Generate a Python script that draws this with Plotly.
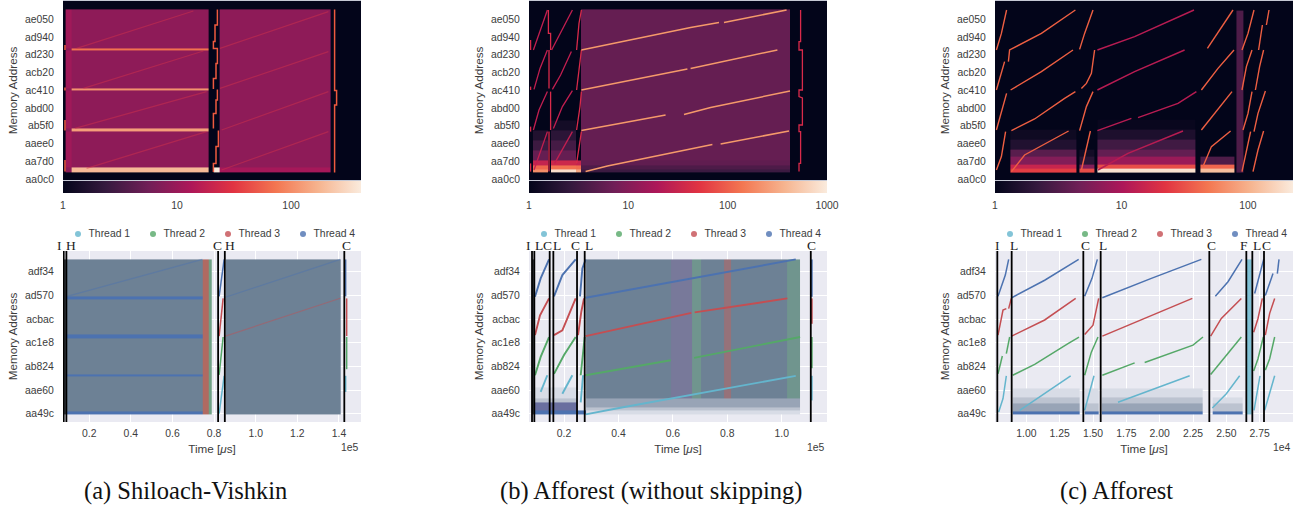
import numpy as np
import plotly.graph_objects as go

# ---------------------------------------------------------------- data
# Values. Individual speckle points cannot be read, so
# dense clouds are given as cell tables of estimated mean tone, not as points.
ROCKET = [[0, "#03051a"], [1/7, "#35193e"], [2/7, "#701f57"], [3/7, "#ad1759"],
          [4/7, "#e13342"], [5/7, "#f37651"], [6/7, "#f6b48f"], [1, "#faebdd"]]
HEAT_TICKS = ["aa0c0", "aa7d0", "aaee0", "ab5f0", "abd00", "ac410", "acb20", "ad230", "ad940", "ae050"]
ADDR_TICKS = ["aa49c", "aae60", "ab824", "ac1e8", "acbac", "ad570", "adf34"]
THREADS = ["Thread 1", "Thread 2", "Thread 3", "Thread 4"]
THREAD_COLORS = ["#64b5cd", "#55a868", "#c44e52", "#4c72b0"]
N = None

# Heatmap (a): access counts per (time bin, address bin)
HA_X = [1.3, 4.3, 72.7, 75.2, 78.2, 134.0]
HA_Y = [3.7, 4.0, 6.2, 24.3, 25.7, 44.7, 45.8, 64.7, 65.8, 85.3]
HA_Z = [[6, 6, N, N, 6],
        [8, 190, N, 400, 12],
        [11, 8.5, N, N, 8.5],
        [8, 130, N, N, 8.5],
        [11, 8.5, N, N, 8.5],
        [8, 110, N, N, 8.5],
        [11, 8.5, N, N, 8.5],
        [8, 70, N, N, 8.5],
        [11, 8.5, N, N, 8.5]]
HA_BRIGHT_X = [77.2, 77.2, 76, 76, 75.2, 75.2, 77.2, 77.2, 76.5, 76.5, 75.2, 75.2, N, 77.2, 77.2, 76.5, 76.5, 75.2, 75.2, N,
               77.7, 77.7, 76.5, 76.5, 75.2, 75.2, N, 135.8, 135.8, 136.8, 136.8, 135.8, 135.8, N,
               1, 1, N, 1, 1, N, 1, 1, N, 1, 1]
HA_BRIGHT_Y = [85.3, 77.5, 77.5, 69.2, 69.2, 65.8, 65.8, 58.3, 58.3, 50.8, 50.8, 45.5, N, 45.3, 40, 40, 33.3, 33.3, 25.8, N,
               24.7, 16.7, 16.7, 8.3, 8.3, 4, N, 85.3, 44.7, 44.7, 37.5, 37.5, 3.7, N,
               65, 67.5, N, 44.7, 46.3, N, 24.7, 30, N, 4.2, 10]
HA_FAINT_X = [6.8, 65.2, N, 10.2, 70.2, N, 6, 71.8, N, 11.8, 71.8, N, 78.5, 132.7, N, 78.5, 132.7, N, 79.3, 132.7, N, 79.3, 132.7]
HA_FAINT_Y = [65.8, 84.5, N, 45.8, 64.5, N, 25.8, 44.2, N, 5.8, 24.2, N, 65.8, 84.2, N, 45.8, 64.2, N, 25, 44.2, N, 5, 24.2]

# Heatmap (b)
HB_X = [2, 9.5, 11.2, 23.3, 26.2, 130.5]
HB_Y = [4, 5.3, 7.2, 10, 15, 20, 25, 30, 85.3]
HB_Z = [[200, N, 800, 300, 3],
        [110, N, 130, 120, 4],
        [30, N, 35, 30, 5.5],
        [6, N, 6, N, 6],
        [3, N, 3.5, N, 6],
        [1.8, N, 2.2, N, 6],
        [N, N, 1.4, N, 6],
        [N, N, N, N, 6]]
HB_MAIN_X = [26.2, 80.8, 95, N, 97.5, 128.8, N, 26.2, 79.2, N, 80.8, 124.2, N, 26.2, 68.3, N, 77.5, 90.8, 130.5, N,
             28.3, 39.2, 91.7, N, 95.8, 130]
HB_MAIN_Y = [65, 76.3, 78.7, N, 78.8, 85, N, 45, 55.5, N, 55.8, 65, N, 24.7, 32.5, N, 32.8, 36.2, 44.5, N,
             4.2, 7, 17.8, N, 18, 24.5]
HB_STEEP_X = [2.2, 5.8, 9.2, N, 2.5, 5.5, 9.2, N, 2.2, 5, 9.2, N, 2.5, 5.8, 9.2, N,
              11.3, 16.7, 21.7, N, 11.7, 15.8, 21.2, N, 12.2, 16.7, 21.7, N, 12.8, 17.5, 21.7]
HB_STEEP_Y = [65, 75.8, 85, N, 45.3, 55.8, 65, N, 25, 35, 44.2, N, 5, 15, 24.2, N,
              65, 75, 85, N, 45.3, 52.5, 64.2, N, 25.8, 36.7, 44.7, N, 8.3, 16.7, 24.2]
HB_BARS_X = [23.8, 25, 26.2, N, 23.8, 25.2, 26.2, N, 23.8, 25.5, 26.2, N, 23.8, 25.8, 26.2, N,
             9.7, 9.7, 10.8, 10.8, N, 10, 10, N, 10.8, 10.8, N, 10, 10, N,
             135.8, 135.8, 135, 135, 136.7, 136.7, 135, 135, 136.7, 136.7, 135, 135, 135.8, 135.8, 135, 135, N,
             0.8, 0.8, N, 0.8, 0.8, N, 0.8, 0.8, N, 0.8, 0.8]
HB_BARS_Y = [65, 78.3, 85, N, 45, 56.7, 65, N, 25, 36.7, 44.2, N, 8.3, 20, 24.2, N,
             85, 73.3, 73.3, 65, N, 65, 45.8, N, 44.2, 25, N, 24.2, 4.2, N,
             85, 69.2, 69.2, 65, 65, 45, 45, 41.7, 41, 27.5, 27.5, 24.2, 24.2, 8.3, 8.3, 4.2, N,
             65, 70, N, 45, 46.7, N, 24.2, 26.7, N, 4.2, 8.3]

# Heatmap (c)
HC_X = [7.7, 40.7, 42, 49.8, 51.2, 100.2, 102.8, 119.8, 120.7, 124]
HC_Y = [3.8, 5.5, 7.5, 11.7, 15, 20, 25, 30, 84.7]
HC_Z = [[25, N, 30, N, 200, N, 120, N, 3],
        [15, N, 6, N, 30, N, 40, N, 3],
        [6, N, 1.8, N, 8, N, 3, N, 3],
        [3.5, N, 1.3, N, 4, N, N, N, 3],
        [1.6, N, N, N, 2.5, N, N, N, 3],
        [1.2, N, N, N, 1.5, N, N, N, 3],
        [N, N, N, N, 1.1, N, N, N, 3],
        [N, N, N, N, N, N, N, N, 3]]
HC_LINE_X = [0.7, 3.2, 5.8, N, 0.7, 3.2, 4.8, N, 0.7, 3.7, 5.8, N, 0.7, 3.2, 5.3, N,
             6.7, 7.3, 23.2, 40.2, N, 7.8, 23.2, 39, N, 8.2, 19.8, 34.8, 40.2, N, 8.2, 14.8, 36.8, N,
             42.3, 44.8, 49, N, 43.2, 45.7, 48.2, 49.8, N, 42.3, 45.7, 49, N, 43.2, 45.7, 47.7, N,
             106.2, 119, N, 103.2, 111.5, 119.5, N, 103.2, 118.5, N, 104, 108.2, 117.8, N,
             123.5, 126.5, 129.5, N, 123.5, 125.7, 128.5, N, 124, 126.5, 128.5, N, 123.5, 125.7, 127.8, N,
             131.8, 133.7, N, 135.7, 137, N, 130.2, 132.3, 134.3, N, 129.5, 131.5, 135.2, N, 129, 131.5, 134.3]
HC_LINE_Y = [65, 73.3, 85, N, 45, 54.2, 59.2, N, 25, 35, 43.3, N, 5, 11.7, 24.2, N,
             59.2, 65, 73.3, 85, N, 45, 54.2, 65, N, 24.7, 30.5, 40.8, 44.2, N, 4.2, 12.5, 24.5, N,
             65.3, 73.3, 85, N, 45.8, 48.3, 53.3, 65, N, 24.7, 36.7, 44.2, N, 5, 15, 24.5, N,
             65.8, 85, N, 45, 55.8, 65, N, 25, 44.2, N, 6.7, 16.7, 24.5, N,
             65, 73.3, 85, N, 45, 56.7, 65, N, 25, 33.3, 44.2, N, 4.2, 15, 24.2, N,
             65, 77.5, N, 77.5, 85, N, 45, 56.7, 65, N, 24.2, 33.3, 44.5, N, 4.2, 15, 24.5]
HC_DARK_X = [51.2, 69.8, 99.5, N, 51.2, 69.8, 94.8, N, 51.2, 68.2, N, 71.5, 91.5, 100.7, N, 51.5, 66.5, 94]
HC_DARK_Y = [65, 71.7, 85, N, 45, 54.2, 65, N, 24.7, 30.8, N, 31.2, 38.3, 44.2, N, 5, 13.3, 24.5]

# Mean tones of the speckled point clouds (blend of the four thread colours)
CLOUD_COLORS = ["#6d8195", "#78799a", "#6fa084", "#b06a62", "#4c72b0", "#6a6f9f", "#98a4b6", "#bcc3d0", "#d8dce6",
                "#444a52", "#7fc0d4", "#70958e", "#96727a"]
M, P, G, R, B, X, L, S, V, K, C, GS, RS = range(13)

# Scatter (a): time in 1e5 µs, address in thousands
SA_TX = [0.0774, 0.0903, 0.7435, 0.7758, 0.7887, 0.8548, 1.4065]
SA_TY = [697.4, 697.75, 701.4, 701.7, 705.5, 705.9, 709.6, 709.9, 713.8]
SA_TZ = [[K, B, R, G, N, M], [K, M, R, G, N, M], [K, B, R, G, N, M], [K, M, R, G, N, M],
         [K, B, R, G, N, M], [K, M, R, G, N, M], [K, B, R, G, N, M], [K, M, R, G, N, M]]
SA_T1 = ([0.8242, 0.8484, N, 1.4323, 1.4323], [697.5, 701.5, N, 701.5, 699.8])
SA_T2 = ([0.8242, 0.8435, N, 1.4371, 1.4371], [701.6, 705.6, N, 705.6, 702.2])
SA_T3 = ([0.8242, 0.8435, N, 1.4371, 1.4371], [705.7, 709.68, N, 709.68, 705.7])
SA_T4 = ([0.8242, 0.8484, N, 1.4323, 1.4323], [709.9, 713.8, N, 713.8, 709.9])
SA_F4 = ([0.0935, 0.7435, N, 0.8548, 1.4065], [709.9, 713.8, N, 709.8, 713.8])
SA_F3 = ([0.8548, 1.4065], [705.7, 709.7])
SA_PHASES = [0.0774, 0.0903, 0.8194, 0.8516, 1.4258]
SA_LABELS = ["I", "H", "C", "H", "C"]
SA_SHIFT = [-4, 5, -1, 5, 2]
SA_XT = [0.2, 0.4, 0.6, 0.8, 1.0, 1.2, 1.4]

# Scatter (b)
SB_TX = [0.0824, 0.0909, 0.2490, 0.2797, 0.5946, 0.6718, 0.7025, 0.788, 0.8127, 1.021, 1.0676]
SB_TY = [697.4, 697.85, 698.2, 698.7, 699.1, 700.3, 713.8]
SB_TZ = [[K, B, B, V, V, V, V, V, V, V],
         [K, X, N, S, S, S, S, S, S, S],
         [K, X, N, L, L, L, L, L, L, L],
         [K, S, N, L, L, L, L, L, L, L],
         [K, V, N, M, P, GS, M, RS, M, GS],
         [K, N, N, M, P, GS, M, RS, M, GS]]
SB_T1 = ([0.1142, 0.1387, N, 0.1939, 0.2306, N, 0.2613, 0.2699, N, 0.2797, 0.402, 1.0517, N, 1.1105, 1.1105],
         [699.8, 701.56, N, 699.6, 701.56, N, 698.7, 701.56, N, 697.43, 698.1, 701.5, N, 701.5, 698.9])
SB_T2 = ([0.0934, 0.1142, 0.1449, N, 0.1632, 0.2, 0.2429, N, 0.2613, 0.2699, 0.276, N, 0.2797, 0.592, N, 0.678, 1.0676, N, 1.1105, 1.1105],
         [701.56, 703.5, 705.6, N, 701.7, 703.7, 705.6, N, 701.56, 704, 705.6, N, 701.56, 703.15, N, 703.4, 705.6, N, 705.6, 702.3])
SB_T3 = ([0.0934, 0.1118, 0.1449, N, 0.1632, 0.1939, 0.2429, N, 0.2515, 0.2637, 0.2735, N, 0.2797, 0.668, N, 0.68, 1.021, N, 1.1105, 1.1105],
         [705.8, 707.9, 709.68, N, 705.8, 706.3, 709.68, N, 705.8, 708.3, 709.68, N, 705.7, 708.15, N, 708.2, 709.68, N, 709.68, 707])
SB_T4 = ([0.0934, 0.1142, 0.1449, N, 0.1632, 0.1939, 0.2429, N, 0.2588, 0.2674, 0.2797, N, 0.2797, 1.0517, N, 1.1105, 1.1105],
         [709.86, 711.8, 713.8, N, 709.9, 712.15, 713.8, N, 709.9, 712.85, 713.8, N, 709.75, 713.8, N, 713.8, 709.85])
SB_PHASES = [0.0824, 0.0909, 0.1473, 0.1608, 0.2478, 0.276, 1.1069]
SB_LABELS = ["I", "L", "C", "L", "C", "L", "C"]
SB_SHIFT = [-4, 5, -2, 4, -2, 4, 1]
SB_XT = [0.2, 0.4, 0.6, 0.8, 1.0]

# Scatter (c): time in 1e4 µs
SC_TX = [0.8975, 1.3975, 1.4375, 1.5425, 1.5625, 2.325, 2.395, 2.625, 2.65, 2.6875]
SC_TY = [697.4, 697.75, 698.55, 699.25, 700.15, 713.8]
SC_TZ = [[B, N, B, N, B, N, B, N, C],
         [L, N, S, N, L, N, S, N, C],
         [S, N, V, N, S, N, V, N, C],
         [V, N, V, N, V, N, N, N, C],
         [N, N, N, N, N, N, N, N, C]]
SC_T1 = ([0.7925, 0.825, 0.85, N, 0.95, 1.1875, 1.3325, N, 1.4375, 1.475, 1.5075, N, 1.6875, 2.225, N, 2.395, 2.5, 2.6, N,
          2.7075, 2.7525, N, 2.7875, 2.825, 2.8625],
         [697.68, 699.1, 701.5, N, 697.85, 700.15, 701.5, N, 697.85, 699.8, 701.5, N, 698.7, 701.5, N, 698.1, 699.6, 701.5, N,
          697.85, 701.5, N, 697.85, 699.8, 701.5])
SC_T2 = ([0.7875, 0.82, N, 0.85, 0.875, N, 0.8975, 1.0625, 1.3125, 1.395, N, 1.4375, 1.4875, 1.5375, N,
          1.57, 1.8125, N, 1.8875, 2.25, 2.325, N, 2.3825, 2.5125, 2.6125, N, 2.705, 2.7375, 2.7775, N, 2.7925, 2.825, 2.8625],
         [701.7, 703.6, N, 703.85, 705.6, N, 701.56, 702.7, 704.9, 705.6, N, 701.56, 704, 705.6, N,
          701.56, 702.87, N, 702.9, 704.74, 705.6, N, 701.63, 703.85, 705.6, N, 702, 703.3, 705.6, N, 702.1, 703.3, 705.6])
SC_T3 = ([0.7875, 0.825, 0.85, N, 0.8675, 0.8875, N, 0.89, 1.1375, 1.37, N, 1.4375, 1.5, 1.5425, N,
          1.57, 1.9375, 2.245, N, 2.3825, 2.4625, 2.6125, N, 2.705, 2.7375, 2.77, N, 2.7925, 2.825, 2.8625],
         [705.8, 708.44, 708.6, N, 708.6, 709.68, N, 705.7, 707.4, 709.68, N, 705.87, 706.85, 709.68, N,
          705.7, 707.9, 709.68, N, 705.7, 707.56, 709.68, N, 706.1, 707.56, 709.68, N, 705.8, 708.1, 709.68])
SC_T4 = ([0.7875, 0.8425, 0.8675, N, 0.89, 1.1375, 1.3925, N, 1.4375, 1.4925, 1.5325, N,
          1.57, 1.9375, 2.3125, N, 2.4175, 2.5125, 2.6175, N, 2.7125, 2.75, 2.78, N, 2.7925, 2.85, N, 2.8825, 2.895],
         [709.9, 712.15, 713.8, N, 709.75, 711.6, 713.8, N, 709.9, 711.8, 713.8, N,
          709.75, 711.8, 713.8, N, 709.9, 711.44, 713.8, N, 710.2, 712.15, 713.8, N, 710, 712.3, N, 712.3, 713.8])
SC_PHASES = [0.7825, 0.89, 1.4275, 1.5575, 2.3725, 2.65, 2.695, 2.7825]
SC_LABELS = ["I", "L", "C", "L", "C", "F", "L", "C"]
SC_SHIFT = [0, 2, 2, 2, 2, -2, 5, 2]
SC_XT = [1.0, 1.25, 1.5, 1.75, 2.0, 2.25, 2.5, 2.75]

CAPTIONS = ["(a) Shiloach-Vishkin", "(b) Afforest (without skipping)", "(c) Afforest"]

# ---------------------------------------------------------------- layout
W, H = 1302, 505
PANEL_LEFT = [63, 529, 995]
PANEL_W = 298
TXT = "#3c3c3c"
SANS = "Liberation Sans"
SERIF = "Liberation Serif"
TICK = dict(family=SANS, size=10.4, color=TXT)
TITLE = dict(family=SANS, size=11.7, color=TXT)

fig = go.Figure()
layout = dict(width=W, height=H, margin=dict(l=0, r=0, t=0, b=0, autoexpand=False), autosize=False, paper_bgcolor="white",
              plot_bgcolor="white", showlegend=False, shapes=[], annotations=[])


def ax(letter, n):
    return letter if n == 1 else f"{letter}{n}"


def dom_x(i):
    return [PANEL_LEFT[i] / W, (PANEL_LEFT[i] + PANEL_W) / W]


def hex_ticks_heat():
    return [0.5 + (int(h, 16) - 0xaa0c0) / 203.7 for h in HEAT_TICKS]


COLOR_MAX = [411, 1000, 227]
COLOR_TICKS = [[1, 10, 100], [1, 10, 100, 1000], [1, 10, 100]]
for i, (hx, hy, hz) in enumerate([(HA_X, HA_Y, HA_Z), (HB_X, HB_Y, HB_Z), (HC_X, HC_Y, HC_Z)]):
    n = i + 1
    xa, ya = ax("x", n), ax("y", n)
    zlog = [[None if v is None else float(np.log10(v)) for v in row] for row in hz]
    fig.add_trace(go.Heatmap(
        x=hx, y=hy, z=zlog, xaxis=xa, yaxis=ya, colorscale=ROCKET, zmin=0, zmax=float(np.log10(COLOR_MAX[i])),
        hoverinfo="skip", showlegend=False,
        colorbar=dict(orientation="h", x=PANEL_LEFT[i] / W, xanchor="left", y=1 - 181 / H, yanchor="top",
                      lenmode="pixels", len=PANEL_W, thicknessmode="pixels", thickness=12, outlinewidth=0,
                      borderwidth=0, xpad=0, ypad=0, ticks="outside", ticklen=4, tickcolor="rgba(0,0,0,0)",
                      tickvals=[float(np.log10(t)) for t in COLOR_TICKS[i]],
                      ticktext=[str(t) for t in COLOR_TICKS[i]], tickfont=TICK)))
    layout[f"xaxis{n if n > 1 else ''}"] = dict(domain=dom_x(i), range=[0, 149], anchor=ya, showticklabels=False, ticks="",
                                                showgrid=False, zeroline=False, showline=True, mirror=True,
                                                linecolor="#c5c8d4", linewidth=1)
    layout[f"yaxis{n if n > 1 else ''}"] = dict(domain=[1 - 180 / H, 1 - 1 / H], range=[0, 89.5], anchor=xa, tickvals=hex_ticks_heat(),
                                                ticktext=HEAT_TICKS, tickfont=TICK, ticks="outside", ticklen=6,
                                                tickcolor="rgba(0,0,0,0)", showgrid=False, zeroline=False, showline=False,
                                                title=dict(text="Memory Address", font=TITLE, standoff=4))


def heat_line(n, x, y, color, width, opacity=1.0):
    fig.add_trace(go.Scatter(x=x, y=y, xaxis=ax("x", n), yaxis=ax("y", n), mode="lines", showlegend=False, hoverinfo="skip",
                             opacity=opacity, line=dict(color=color, width=width), connectgaps=False))


heat_line(1, HA_FAINT_X, HA_FAINT_Y, "#d8344a", 1.2, 0.45)
heat_line(1, HA_BRIGHT_X, HA_BRIGHT_Y, "#ee5a3f", 1.5)
heat_line(2, HB_STEEP_X, HB_STEEP_Y, "#c21f50", 1.3)
heat_line(2, HB_BARS_X, HB_BARS_Y, "#d92a4a", 1.3)
heat_line(2, HB_MAIN_X, HB_MAIN_Y, "#f59a6a", 1.5)
heat_line(3, HC_DARK_X, HC_DARK_Y, "#b81c52", 1.5)
heat_line(3, HC_LINE_X, HC_LINE_Y, "#ee5f42", 1.4)

# Plot-area backgrounds of the heatmaps are the colour of a count of one
for n in (1, 2, 3):
    layout["shapes"].append(dict(type="rect", xref=f"{ax('x', n)} domain", yref=f"{ax('y', n)} domain", x0=0, x1=1, y0=0, y1=1,
                                 fillcolor="#03051a", line_width=0, layer="below"))

SCATTERS = [
    dict(table=(SA_TX, SA_TY, SA_TZ), lines=[SA_T1, SA_T2, SA_T3, SA_T4], phases=SA_PHASES, labels=SA_LABELS,
         shift=SA_SHIFT, xt=SA_XT, fmt="{:.1f}", xr=[0.074, 1.506], exp="1e5", faint=[(SA_F4, 3), (SA_F3, 2)], lw=1.5),
    dict(table=(SB_TX, SB_TY, SB_TZ), lines=[SB_T1, SB_T2, SB_T3, SB_T4], phases=SB_PHASES, labels=SB_LABELS,
         shift=SB_SHIFT, xt=SB_XT, fmt="{:.1f}", xr=[0.0713, 1.1665], exp="1e5", faint=[], lw=1.9),
    dict(table=(SC_TX, SC_TY, SC_TZ), lines=[SC_T1, SC_T2, SC_T3, SC_T4], phases=SC_PHASES, labels=SC_LABELS,
         shift=SC_SHIFT, xt=SC_XT, fmt="{:.2f}", xr=[0.765, 3.0], exp="1e4", faint=[], lw=1.5),
]
cloud_scale = []
nc = len(CLOUD_COLORS)
for k, col in enumerate(CLOUD_COLORS):
    cloud_scale += [[k / nc, col], [(k + 1) / nc, col]]

for i, s in enumerate(SCATTERS):
    n = i + 4
    xa, ya = f"x{n}", f"y{n}"
    tx, ty, tz = s["table"]
    fig.add_trace(go.Heatmap(x=tx, y=ty, z=tz, xaxis=xa, yaxis=ya, colorscale=cloud_scale, zmin=-0.5, zmax=nc - 0.5,
                             showscale=False, hoverinfo="skip", showlegend=False))
    for (line, th) in s["faint"]:
        fig.add_trace(go.Scatter(x=line[0], y=line[1], xaxis=xa, yaxis=ya, mode="lines", showlegend=False,
                                 hoverinfo="skip", opacity=0.45, line=dict(color=THREAD_COLORS[th], width=1.2)))
    for th, line in enumerate(s["lines"]):
        fig.add_trace(go.Scatter(x=line[0], y=line[1], xaxis=xa, yaxis=ya, mode="lines", showlegend=False,
                                 hoverinfo="skip", line=dict(color=THREAD_COLORS[th], width=s["lw"])))
    # thread key: one dot and its name per thread, on a hidden strip axis above the panel
    kn = i + 7
    for th, name in enumerate(THREADS):
        fig.add_trace(go.Scatter(x=[th], y=[0], xaxis=f"x{kn}", yaxis=f"y{kn}", mode="markers+text", name=name,
                                 text=["\u00a0\u00a0" + name], textposition="middle right", textfont=TICK, cliponaxis=False,
                                 hoverinfo="skip", showlegend=False,
                                 marker=dict(color=THREAD_COLORS[th], size=6, opacity=0.8)))
    key_left = PANEL_LEFT[i] + 15
    layout[f"xaxis{kn}"] = dict(domain=[key_left / W, (key_left + 225) / W], range=[0, 3], anchor=f"y{kn}", visible=False)
    layout[f"yaxis{kn}"] = dict(domain=[1 - 239 / H, 1 - 229 / H], range=[-1, 1], anchor=f"x{kn}", visible=False)
    layout[f"xaxis{n}"] = dict(domain=dom_x(i), range=s["xr"], anchor=ya, tickvals=s["xt"],
                               ticktext=[s["fmt"].format(v) for v in s["xt"]], tickfont=TICK, ticks="outside", ticklen=2,
                               tickcolor="rgba(0,0,0,0)", showgrid=True, gridcolor="white", gridwidth=1.3, zeroline=False,
                               title=dict(text="Time [<i>μ</i>s]", font=TITLE, standoff=6))
    layout[f"yaxis{n}"] = dict(domain=[1 - 422 / H, 1 - 251 / H], range=[696.62, 714.69], anchor=xa,
                               tickvals=[int(h, 16) / 1000 for h in ADDR_TICKS], ticktext=ADDR_TICKS, tickfont=TICK,
                               ticks="outside", ticklen=6, tickcolor="rgba(0,0,0,0)", showgrid=True, gridcolor="white",
                               gridwidth=1.3, zeroline=False,
                               title=dict(text="Memory Address", font=TITLE, standoff=4))
    layout["shapes"].append(dict(type="rect", xref=f"{xa} domain", yref=f"{ya} domain", x0=0, x1=1, y0=0, y1=1,
                                 fillcolor="#eaeaf2", line_width=0, layer="below"))
    for t, lab, dx in zip(s["phases"], s["labels"], s["shift"]):
        layout["shapes"].append(dict(type="line", xref=xa, yref=f"{ya} domain", x0=t, x1=t, y0=0, y1=1,
                                     line=dict(color="black", width=1.8), layer="above"))
        layout["annotations"].append(dict(text=lab, xref=xa, yref="paper", x=t, xshift=dx, y=1 - 245.5 / H, yanchor="middle",
                                          showarrow=False, font=dict(family=SERIF, size=13.5, color="#222222")))
    layout["annotations"].append(dict(text=s["exp"], xref="paper", yref="paper", x=(PANEL_LEFT[i] + PANEL_W) / W, xanchor="right",
                                      y=1 - 447 / H, yanchor="middle", showarrow=False, font=TICK))

CAPTION_CENTRE = [185, 650.5, 1116.5]
for cap, cx in zip(CAPTIONS, CAPTION_CENTRE):
    layout["annotations"].append(dict(text=cap, xref="paper", yref="paper", x=cx / W, xanchor="center", y=1 - 491 / H,
                                      yanchor="middle", showarrow=False, font=dict(family=SERIF, size=24.5, color="#111111")))

fig.update_layout(**layout)
fig.write_html("out.html", config={"displayModeBar": False}, post_script="document.body.style.margin='0';")
